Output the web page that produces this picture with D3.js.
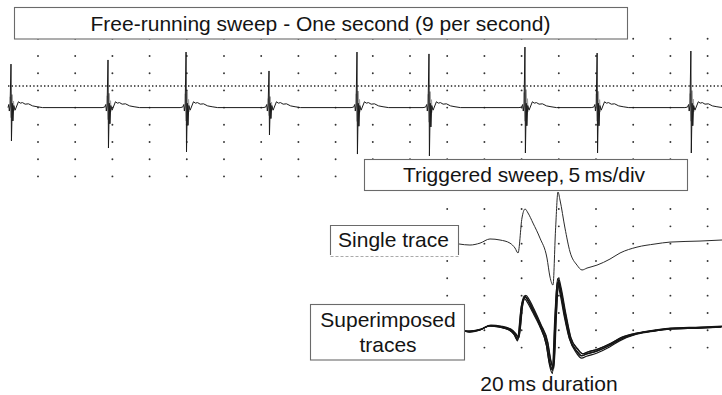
<!DOCTYPE html>
<html><head><meta charset="utf-8">
<script src="https://cdn.jsdelivr.net/npm/d3@7"></script>
<style>
body{margin:0;background:#fff}
svg{display:block}
text{font-family:"Liberation Sans",Arial,Helvetica,sans-serif;fill:#141414}
</style>
</head><body>
<svg id="chart" width="722" height="395"></svg>
<script>
// ---------------- DATA ----------------
// Free-running sweep: spike times (grid divisions), peak and trough (divisions from baseline)
const spikeTimes   = [0.274, 2.882, 4.98, 7.21, 9.575, 11.51, 14.09, 16.03, 18.55];
const spikePeaks   = [2.53, 2.77, 3.23, 2.13, 3.23, 3.12, 3.52, 3.17, 3.29];
const spikeTroughs = [-1.94, -2.35, -2.58, -1.59, -2.70, -2.81, -2.64, -2.64, -2.64];
// spike waveform: [time offset (div), value, scaled? 1 = fraction of peak/trough, 0 = absolute divisions]
const spikeShape = [
  [-0.16, 0, 0], [-0.09, 0.03, 0], [-0.06, 0.18, 0], [-0.045, -0.2, 0], [-0.025, 0.1, 0],
  [0, 1, 1], [0.012, -1, 1], [0.035, 0.25, 0], [0.05, -0.4, 1], [0.075, 0.12, 0],
  [0.11, -0.15, 0], [0.2, 0.34, 0], [0.25, 0.26, 0], [0.31, 0.29, 0], [0.38, 0.2, 0],
  [0.47, 0.22, 0], [0.58, 0.1, 0], [0.7, 0.05, 0], [0.85, 0, 0]
];
// grey overlapping sweep band near each spike: [time offset, fraction of peak(+)/trough(-)]
const spikeBand = [[-0.01, 0.25], [0.01, -0.3], [0.025, 0.3], [0.04, -0.4], [0.055, 0.15], [0.07, -0.1]];
const thresholdLevel = 1.26;           // dotted trigger level (divisions)
const topTraceRange = [0.194, 19.39];  // visible part of the free-running trace (divisions)
const topGridCols = [1,2,3,4,5,6,7,8,9,10,11,12,13,14,15,16,17,18,19];
const topGridRows = [4,3,2,1,0,-1,-2,-3,-4];

// Triggered sweep, 5 ms/div: single trace (time ms, value divisions)
const singleTime  = [1.59, 3.06, 4.41, 5.75, 7.10, 8.44, 9.11, 9.52, 10.05, 10.46, 10.86, 11.53, 12.47, 13.41, 13.82, 14.22, 14.56, 14.89, 15.16, 15.83, 16.51, 17.45, 18.12, 18.79, 20.13, 21.88, 23.23, 25.51, 27.93, 29.95, 33.98, 36.94];
const singleValue = [-0.02, -0.08, 0.03, 0.27, 0.21, 0.03, -0.25, -0.54, 1.48, 2.00, 1.77, 1.19, 0.32, -0.83, -1.93, -2.39, 0.78, 2.98, 2.52, 0.90, -0.48, -1.24, -1.52, -1.41, -1.24, -0.89, -0.54, -0.20, -0.02, 0.09, 0.15, 0.21];
// superimposed traces: [time shift ms, level shift div, gain]
const superTraces = [[0, 0, 0.97], [0.08, 0.06, 0.93], [-0.06, -0.06, 1.02], [0.12, 0.1, 0.96], [-0.1, -0.04, 0.94]];
const superStart = 2.39;     // ms, where superimposed traces leave their label
const superOffset = -5;      // divisions below single trace
const lowGridCols = [0,5,10,15,20,25,30,35];
const lowGridRows = [2,1,0,-1,-2,-3,-4,-5,-6];

const labels = {
  top: "Free-running sweep - One second (9 per second)",
  trig: "Triggered sweep,\u20095\u2009ms/div",
  single: "Single trace",
  superA: "Superimposed",
  superB: "traces",
  dur: "20\u2009ms duration"
};

// ---------------- SCALES ----------------
const svg = d3.select("#chart");
const xTop = d3.scaleLinear().domain([0, 19]).range([0.8, 707.6]);
const yTop = d3.scaleLinear().domain([3, -4]).range([56, 176.4]);
const xLow = d3.scaleLinear().domain([0, 35]).range([447.2, 707.6]);
const yLow = d3.scaleLinear().domain([2, -6]).range([209, 347.6]);

// ---------------- GRIDS ----------------
const gTopGrid = svg.append("g");
topGridCols.forEach(c => topGridRows.forEach(r => {
  gTopGrid.append("circle").attr("cx", xTop(c)).attr("cy", yTop(r)).attr("r", 0.95).attr("fill", "#333");
}));
const gLowGrid = svg.append("g");
lowGridCols.forEach(c => lowGridRows.forEach(r => {
  gLowGrid.append("circle").attr("cx", xLow(c)).attr("cy", yLow(r)).attr("r", 0.95).attr("fill", "#333");
}));

// ---------------- TOP TRACE ----------------
svg.append("line")
  .attr("x1", xTop(topTraceRange[0])).attr("x2", xTop(topTraceRange[1]))
  .attr("y1", yTop(thresholdLevel)).attr("y2", yTop(thresholdLevel))
  .attr("stroke", "#222").attr("stroke-width", 1.6).attr("stroke-dasharray", "1.4,2.2");

const topPts = [[topTraceRange[0], 0]];
spikeTimes.forEach((t, i) => {
  spikeShape.forEach(([dt, v, s]) => {
    const val = s ? (v >= 0 ? v * spikePeaks[i] : -v * spikeTroughs[i]) : v;
    if (t + dt >= topTraceRange[0]) topPts.push([t + dt, val]);
  });
});
topPts.push([topTraceRange[1], 0]);
const lineTop = d3.line().x(d => xTop(d[0])).y(d => yTop(d[1]));

// grey bands
spikeTimes.forEach((t, i) => {
  const pts = spikeBand.map(([dt, f]) => [t + dt, f >= 0 ? f * spikePeaks[i] : -f * spikeTroughs[i]]);
  svg.append("path").attr("d", lineTop(pts)).attr("fill", "none")
    .attr("stroke", "#a0a0a0").attr("stroke-width", 2);
});
svg.append("path").attr("d", lineTop(topPts)).attr("fill", "none")
  .attr("stroke", "#1a1a1a").attr("stroke-width", 1).attr("stroke-linejoin", "round");

// ---------------- BOXES ----------------
function box(x, y, w, h) {
  return svg.append("rect").attr("x", x).attr("y", y).attr("width", w).attr("height", h)
    .attr("fill", "#fff").attr("stroke", "#6a6a6a").attr("stroke-width", 1.1);
}
box(14.5, 7.5, 613, 31.5);
svg.append("text").attr("x", 320.5).attr("y", 30.5).attr("text-anchor", "middle")
  .attr("font-size", 21).text(labels.top);

box(364.5, 159.5, 323, 31);
svg.append("text").attr("x", 524).attr("y", 181.5).attr("text-anchor", "middle")
  .attr("font-size", 21).text(labels.trig);

// ---------------- LOWER TRACES ----------------
const lineLow = d3.line().x(d => xLow(d[0])).y(d => yLow(d[1])).curve(d3.curveMonotoneX);
const singlePts = singleTime.map((t, i) => [t, singleValue[i]]);

superTraces.forEach(([dt, dv, g]) => {
  const pts = [[superStart, superOffset - 0.05]].concat(
    singlePts.filter(p => p[0] + dt > superStart + 0.3).map(p => [p[0] + dt, superOffset + dv * (Math.abs(p[1]) > 0.5 ? 1 : 0.4) + p[1] * g]));
  svg.append("path").attr("d", lineLow(pts)).attr("fill", "none")
    .attr("stroke", "#151515").attr("stroke-width", 1.2);
});
svg.append("path").attr("d", lineLow(singlePts)).attr("fill", "none")
  .attr("stroke", "#2a2a2a").attr("stroke-width", 1);

// label boxes
svg.append("rect").attr("x", 330.5).attr("y", 225.5).attr("width", 128).attr("height", 31)
  .attr("fill", "#fff").attr("stroke", "none");
svg.append("path").attr("d", "M330.5,255V225.5H458.5V255").attr("fill", "none")
  .attr("stroke", "#6a6a6a").attr("stroke-width", 1.1);
svg.append("line").attr("x1", 330.5).attr("x2", 458.5).attr("y1", 256.5).attr("y2", 256.5)
  .attr("stroke", "#aaa").attr("stroke-width", 1).attr("stroke-dasharray", "3,2");
svg.append("text").attr("x", 393.5).attr("y", 247).attr("text-anchor", "middle")
  .attr("font-size", 21).text(labels.single);

box(310.5, 304.5, 154, 55.5);
svg.append("text").attr("x", 388).attr("y", 327).attr("text-anchor", "middle")
  .attr("font-size", 21).text(labels.superA);
svg.append("text").attr("x", 388).attr("y", 352).attr("text-anchor", "middle")
  .attr("font-size", 21).text(labels.superB);

svg.append("text").attr("x", 549).attr("y", 391).attr("text-anchor", "middle")
  .attr("font-size", 21).text(labels.dur);
</script>
</body></html>
